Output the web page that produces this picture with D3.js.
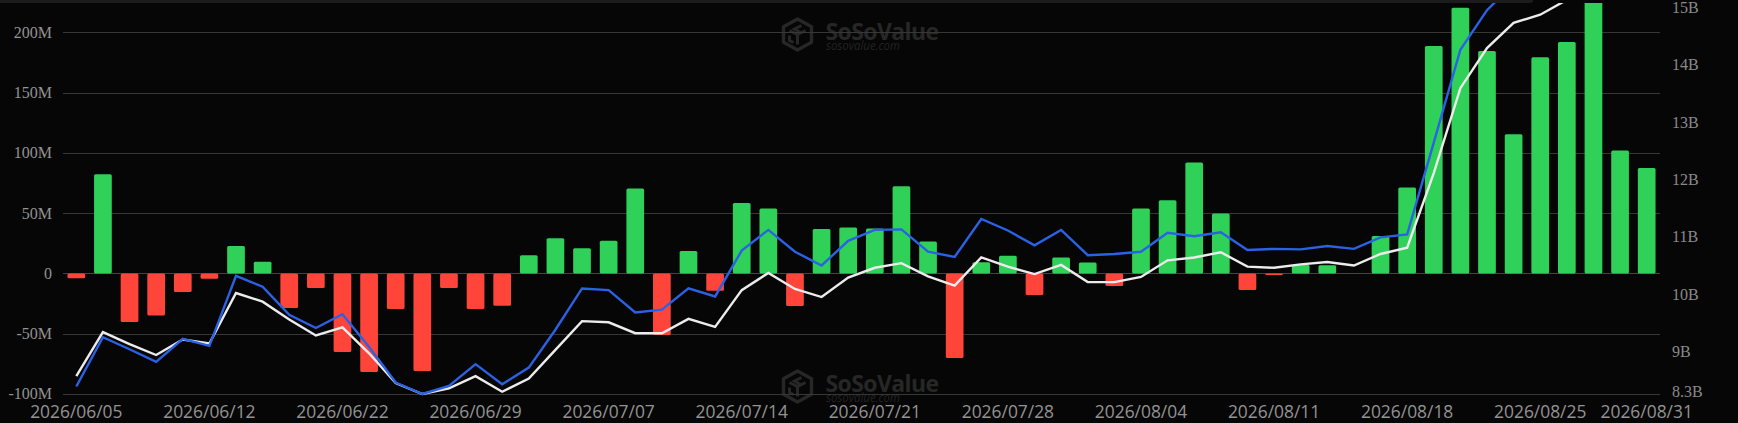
<!DOCTYPE html>
<html>
<head>
<meta charset="utf-8">
<script src="https://cdn.jsdelivr.net/npm/d3@7"></script>
<style>
  html, body { margin: 0; padding: 0; background: #060606; }
  svg { display: block; }
</style>
</head>
<body>
<svg id="chart" width="1738" height="423"></svg>
<script>
// ---------------- DATA ----------------
const dates = [
  "2026/06/05","2026/06/08","2026/06/09","2026/06/10","2026/06/11","2026/06/12",
  "2026/06/15","2026/06/16","2026/06/17","2026/06/18","2026/06/22",
  "2026/06/23","2026/06/24","2026/06/25","2026/06/26","2026/06/29",
  "2026/06/30","2026/07/01","2026/07/02","2026/07/06","2026/07/07",
  "2026/07/08","2026/07/09","2026/07/10","2026/07/13","2026/07/14",
  "2026/07/15","2026/07/16","2026/07/17","2026/07/20","2026/07/21",
  "2026/07/22","2026/07/23","2026/07/24","2026/07/27","2026/07/28",
  "2026/07/29","2026/07/30","2026/07/31","2026/08/03","2026/08/04",
  "2026/08/05","2026/08/06","2026/08/07","2026/08/10","2026/08/11",
  "2026/08/12","2026/08/13","2026/08/14","2026/08/17","2026/08/18",
  "2026/08/19","2026/08/20","2026/08/21","2026/08/24","2026/08/25",
  "2026/08/26","2026/08/27","2026/08/28","2026/08/31"
];

// Daily net inflow (millions USD) — bars, left axis
const dailyNetInflow = [
  -4, 82.4, -40.3, -34.8, -15.4, -4.4,
  22.7, 9.7, -28.7, -12.1, -65.2,
  -81.8, -29.5, -80.9, -12.1, -29.5,
  -26.8, 15.2, 29.3, 21.0, 27.1,
  70.5, -51.1, 18.6, -14.3, 58.4,
  53.9, -27.0, 36.8, 38.1, 37.3,
  72.4, 26.5, -70.2, 9.4, 14.7,
  -17.9, 13.3, 9.1, -10.4, 53.9,
  60.8, 92.0, 49.7, -13.8, -1.3,
  7.2, 6.9, 0, 31.0, 71.3,
  188.8, 220.5, 184.6, 115.6, 179.4,
  192.1, 235.0, 102.0, 87.6
];

// Total net assets (billions USD) — blue line, right axis
const totalNetAssets = [
  8.43, 9.29, 9.08, 8.86, 9.26, 9.14,
  10.36, 10.17, 9.68, 9.45, 9.69,
  9.12, 8.50, 8.30, 8.44, 8.82,
  8.47, 8.76, 9.42, 10.14, 10.11,
  9.72, 9.77, 10.14, 10.00, 10.80,
  11.16, 10.78, 10.54, 10.97, 11.16,
  11.17, 10.78, 10.69, 11.35, 11.15,
  10.89, 11.16, 10.72, 10.74, 10.78,
  11.11, 11.05, 11.12, 10.81, 10.83,
  10.82, 10.88, 10.83, 11.03, 11.08,
  12.68, 14.30, 14.99, 15.45, 15.60,
  15.85, 16.25, 16.40, 16.50
];

// Cumulative net inflow (billions USD) — white line, right axis
const cumulativeNetInflow = [
  8.61, 9.38, 9.17, 8.98, 9.25, 9.18,
  10.06, 9.91, 9.60, 9.32, 9.46,
  9.01, 8.49, 8.30, 8.40, 8.61,
  8.34, 8.57, 9.07, 9.57, 9.55,
  9.36, 9.36, 9.61, 9.47, 10.11,
  10.41, 10.13, 9.99, 10.33, 10.50,
  10.58, 10.35, 10.19, 10.68, 10.52,
  10.39, 10.55, 10.25, 10.25, 10.34,
  10.63, 10.68, 10.77, 10.52, 10.50,
  10.56, 10.60, 10.54, 10.74, 10.85,
  12.15, 13.63, 14.33, 14.77, 14.91,
  15.17, 15.45, 15.65, 15.80
];

const leftTicks = [-100, -50, 0, 50, 100, 150, 200];
const leftTickLabels = ["-100M", "-50M", "0", "50M", "100M", "150M", "200M"];
const rightTicks = [8.3, 9, 10, 11, 12, 13, 14, 15];
const rightTickLabels = ["8.3B", "9B", "10B", "11B", "12B", "13B", "14B", "15B"];

// ---------------- LAYOUT ----------------
const W = 1738, H = 423;
const plot = { left: 63, right: 1660, top: 3, bottom: 394 };
const colors = {
  bg: "#060606",
  grid: "#373737",
  green: "#30D158",
  red: "#FF453A",
  blue: "#2a62e6",
  white: "#ececec",
  axisText: "#939393",
  watermark: "#272727"
};

const svg = d3.select("#chart");
svg.append("rect").attr("width", W).attr("height", H).attr("fill", colors.bg);

const x = d3.scaleBand()
  .domain(dates)
  .range([plot.left, plot.right])
  .paddingInner(0.335)
  .paddingOuter(0.1675);

const yLeft = d3.scaleLinear().domain([-100, 224.4]).range([plot.bottom, plot.top]);
const yRight = d3.scaleLinear().domain([8.3, 15.115]).range([plot.bottom, plot.top]);

svg.append("defs").append("clipPath").attr("id", "plotClip")
  .append("rect")
  .attr("x", plot.left - 5).attr("y", plot.top)
  .attr("width", plot.right - plot.left + 10).attr("height", H - plot.top);

// ---------------- WATERMARKS ----------------
function watermark(g, cx, cy) {
  const r = 15.5, hw = 14;
  const hex = [[0, -r], [hw, -r / 2], [hw, r / 2], [0, r], [-hw, r / 2], [-hw, -r / 2]];
  g.append("path")
    .attr("d", "M" + hex.map(p => [cx + p[0], cy + p[1]].join(",")).join("L") + "Z")
    .attr("fill", "none")
    .attr("stroke", colors.watermark)
    .attr("stroke-width", 3.4)
    .attr("stroke-linejoin", "round");
  g.append("path")
    .attr("d", [
      `M${cx - 8},${cy - 4} L${cx},${cy} L${cx + 8},${cy - 4}`,
      `M${cx},${cy} L${cx},${cy + 10}`,
      `M${cx + 4},${cy - 9} L${cx - 3},${cy - 5.5} L${cx + 3},${cy - 2}`,
      `M${cx - 8},${cy + 1} L${cx - 8},${cy + 6} L${cx - 4},${cy + 8}`
    ].join(" "))
    .attr("fill", "none").attr("stroke", colors.watermark).attr("stroke-width", 3);
  const t = g.append("text")
    .attr("font-family", "Open Sans, sans-serif")
    .attr("fill", colors.watermark);
  t.append("tspan")
    .attr("x", cx + 28).attr("y", cy + 5.5)
    .attr("font-weight", 700)
    .attr("font-size", 23)
    .attr("letter-spacing", -0.6)
    .text("SoSoValue");
  t.append("tspan")
    .attr("x", cx + 28.5).attr("y", cy + 15)
    .attr("font-size", 12)
    .attr("font-style", "italic")
    .attr("fill", "#232323")
    .attr("textLength", 74)
    .attr("lengthAdjust", "spacingAndGlyphs")
    .text("sosovalue.com");
}
const wm = svg.append("g");
watermark(wm, 797.5, 34.5);
watermark(wm, 797.5, 386.5);

// ---------------- GRID ----------------
svg.append("g").selectAll("line")
  .data(leftTicks)
  .join("line")
  .attr("x1", plot.left).attr("x2", plot.right)
  .attr("y1", d => Math.round(yLeft(d)) + 0.5)
  .attr("y2", d => Math.round(yLeft(d)) + 0.5)
  .attr("stroke", d => d === 0 ? "#444444" : colors.grid)
  .attr("stroke-width", 1);

// ---------------- AXES ----------------
const axisL = d3.axisLeft(yLeft)
  .tickValues(leftTicks)
  .tickFormat((d, i) => leftTickLabels[i])
  .tickSize(0).tickPadding(11);
const gL = svg.append("g").attr("transform", `translate(${plot.left},0)`).call(axisL);
gL.select(".domain").remove();
gL.selectAll("text")
  .attr("fill", colors.axisText)
  .attr("font-family", "Liberation Serif, serif")
  .attr("font-size", 16)
  .attr("dy", "0.3em");

const axisR = d3.axisRight(yRight)
  .tickValues(rightTicks)
  .tickFormat((d, i) => rightTickLabels[i])
  .tickSize(0).tickPadding(12);
const gR = svg.append("g").attr("transform", `translate(${plot.right},0)`).call(axisR);
gR.select(".domain").remove();
gR.selectAll("text")
  .attr("fill", "#8a8a8a")
  .attr("font-family", "Liberation Serif, serif")
  .attr("font-size", 16)
  .attr("dy", "0.18em");

const labelIdx = new Set(dates.map((d, i) => i).filter(i => i % 5 === 0 || i === dates.length - 1));
const axisB = d3.axisBottom(x)
  .tickValues(dates.filter((d, i) => labelIdx.has(i)))
  .tickSize(0).tickPadding(0);
const gB = svg.append("g").attr("transform", `translate(0,${plot.bottom})`).call(axisB);
gB.select(".domain").remove();
gB.selectAll("text")
  .attr("fill", colors.axisText)
  .attr("font-family", "Open Sans, sans-serif")
  .attr("font-size", 17.4)
  .attr("dy", null)
  .attr("y", 23.5);

// ---------------- BARS ----------------
const content = svg.append("g").attr("clip-path", "url(#plotClip)");
content.append("g").selectAll("rect")
  .data(dates.map((d, i) => ({ date: d, v: dailyNetInflow[i] })))
  .join("rect")
  .attr("x", d => x(d.date))
  .attr("width", x.bandwidth())
  .attr("y", d => Math.min(yLeft(d.v), yLeft(0)))
  .attr("height", d => Math.abs(yLeft(d.v) - yLeft(0)))
  .attr("rx", 1.5)
  .attr("fill", d => d.v >= 0 ? colors.green : colors.red);

// ---------------- LINES ----------------
const cx = d => x(d) + x.bandwidth() / 2;
const lineGen = arr => d3.line()
  .x((d, i) => cx(dates[i]))
  .y(d => yRight(d))(arr);

content.append("path")
  .attr("d", lineGen(cumulativeNetInflow))
  .attr("fill", "none").attr("stroke", colors.white).attr("stroke-width", 2.4);
content.append("path")
  .attr("d", lineGen(totalNetAssets))
  .attr("fill", "none").attr("stroke", colors.blue).attr("stroke-width", 2.4);

// ---------------- TOP STRIP ----------------
svg.append("path")
  .attr("d", "M0,0 H1533 V0.5 Q1533,3 1530,3 H0 Z")
  .attr("fill", "#1c1c1c");
</script>
</body>
</html>
